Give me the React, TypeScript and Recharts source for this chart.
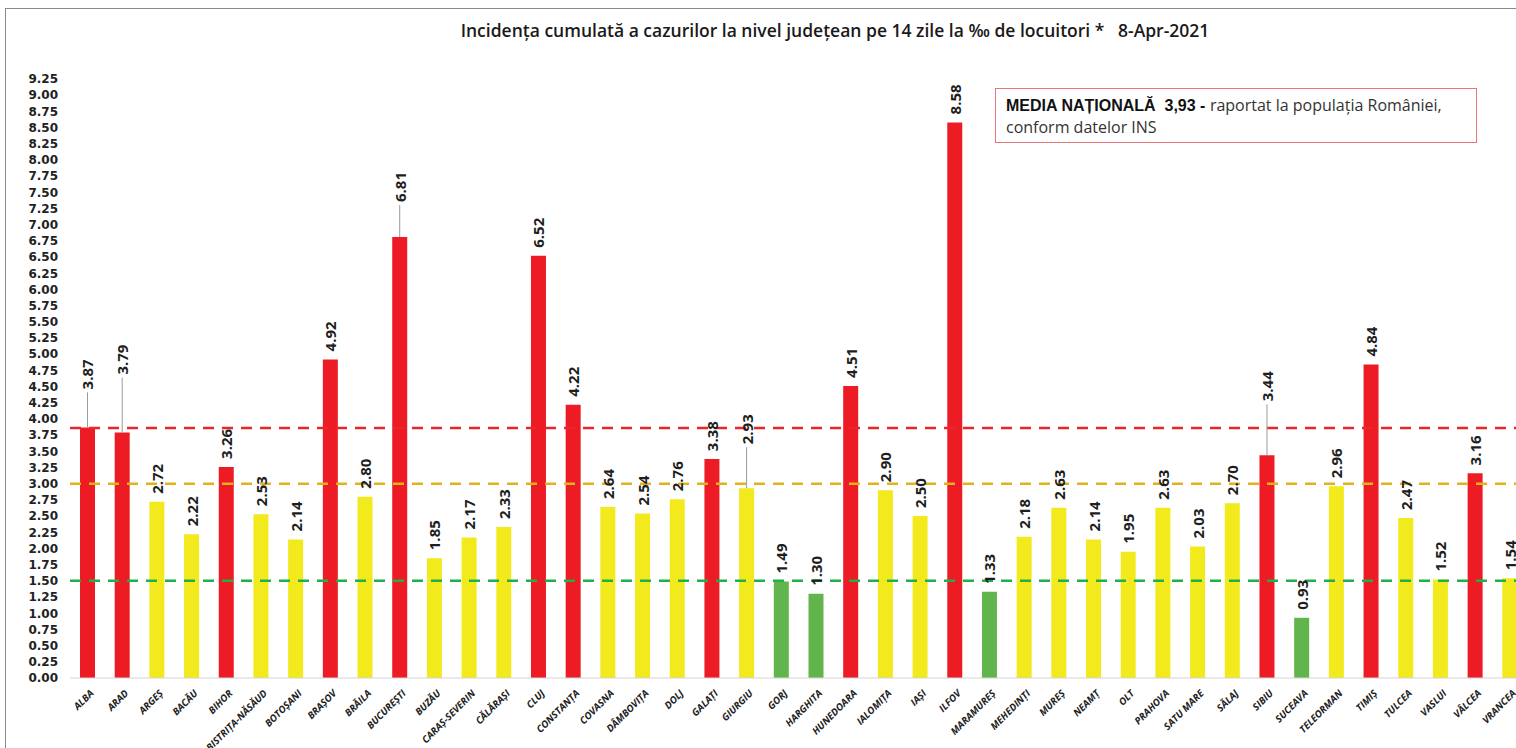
import {Bar, BarChart, Cell, LabelList, ReferenceLine, XAxis, YAxis} from "recharts";

const counties = [
  "ALBA", "ARAD", "ARGEȘ", "BACĂU", "BIHOR", "BISTRIȚA-NĂSĂUD", "BOTOȘANI", "BRAȘOV", "BRĂILA", "BUCUREȘTI",
  "BUZĂU", "CARAȘ-SEVERIN", "CĂLĂRAȘI", "CLUJ", "CONSTANȚA", "COVASNA", "DÂMBOVIȚA", "DOLJ", "GALAȚI", "GIURGIU",
  "GORJ", "HARGHITA", "HUNEDOARA", "IALOMIȚA", "IAȘI", "ILFOV", "MARAMUREȘ", "MEHEDINȚI", "MUREȘ", "NEAMȚ",
  "OLT", "PRAHOVA", "SATU MARE", "SĂLAJ", "SIBIU", "SUCEAVA", "TELEORMAN", "TIMIȘ", "TULCEA", "VASLUI",
  "VÂLCEA", "VRANCEA",
];

const incidence = [
  3.87, 3.79, 2.72, 2.22, 3.26, 2.53, 2.14, 4.92, 2.80, 6.81,
  1.85, 2.17, 2.33, 6.52, 4.22, 2.64, 2.54, 2.76, 3.38, 2.93,
  1.49, 1.30, 4.51, 2.90, 2.50, 8.58, 1.33, 2.18, 2.63, 2.14,
  1.95, 2.63, 2.03, 2.70, 3.44, 0.93, 2.96, 4.84, 2.47, 1.52,
  3.16, 1.54,
];

const yTicks = Array.from({length: 38}, (_, i) => i * 0.25);

const RED_LIMIT = 3.0;
const GREEN_LIMIT = 1.5;
const NATIONAL_LINE = 3.86;

// labels that sit higher with a leader line
const labelLift: Record<string, number> = {
  "ALBA": 30, "ARAD": 50, "BUCUREȘTI": 27, "GIURGIU": 36, "SIBIU": 46,
};

const COLOR = {
  red: "#ED1C24",
  yellow: "#F2EA1C",
  green: "#62B54C",
  redLine: "#E8262B",
  yellowLine: "#E2B21A",
  greenLine: "#1FAF4B",
};

const data = counties.map((name, i) => ({name, value: incidence[i]}));

const barColor = (v: number) => v >= RED_LIMIT ? COLOR.red : v >= GREEN_LIMIT ? COLOR.yellow : COLOR.green;

const BarLabel = (props: any) => {
  const {x, y, width, value, index} = props;
  const cx = x + width / 2;
  const lift = labelLift[counties[index]] ?? 0;
  const ty = y - 8 - lift;
  return <g>
    {lift > 0 && <line x1={cx} y1={y} x2={cx} y2={ty + 3} stroke="#9a9a9a" strokeWidth={1}/>}
    <text
      x={cx} y={ty} transform={`rotate(-90 ${cx} ${ty})`}
      textAnchor="start" dominantBaseline="central"
      style={{fontFamily: "'Open Sans'", fontWeight: 700, fontSize: 15, fill: "#1e1e1e"}}
    >{Number(value).toFixed(2)}</text>
  </g>
};

const CountyTick = (props: any) => {
  const {x, y, payload} = props;
  return <text
    x={x + 7} y={y + 8} transform={`rotate(-45 ${x + 7} ${y + 8})`} textAnchor="end"
    style={{fontFamily: "'Open Sans'", fontStyle: "italic", fontWeight: 700, fontSize: 9.8, fill: "#222"}}
  >{payload.value}</text>
};

export default function App() {
  return <div style={{position: "absolute", left: 0, top: 0, width: 1516, height: 748, overflow: "hidden", background: "#fff"}}>
    <div style={{position: "absolute", left: 5, top: 8, width: 1700, height: 900, border: "1px solid #8a8a8a"}}/>
    <div style={{
      position: "absolute", left: 0, top: 18, width: 1670, textAlign: "center", whiteSpace: "pre",
      fontFamily: "'Open Sans'", fontWeight: 600, fontSize: 17.5, color: "#1a1a1a",
    }}>{"Incidența cumulată a cazurilor la nivel județean pe 14 zile la ‰ de locuitori *   8-Apr-2021"}</div>

    <div style={{position: "absolute", left: 0, top: 0}}>
      <BarChart width={1528} height={748} data={data} margin={{top: 79, right: 1, bottom: 0, left: 0}}>
        <XAxis dataKey="name" interval={0} height={70} tick={<CountyTick/>} tickLine={false}
               axisLine={{stroke: "#d4d4d4"}}/>
        <YAxis domain={[0, 9.25]} ticks={yTicks} interval={0} width={70} tickSize={0} tickMargin={12}
               axisLine={false} tickLine={false} tickFormatter={(v: number) => v.toFixed(2)}
               tick={{fontFamily: "'DejaVu Sans'", fontWeight: 700, fontSize: 12, fill: "#222"}}/>
        <ReferenceLine y={NATIONAL_LINE} stroke={COLOR.redLine} strokeWidth={2.5} strokeDasharray="11 8"/>
        <ReferenceLine y={RED_LIMIT} stroke={COLOR.yellowLine} strokeWidth={2.5} strokeDasharray="11 8"/>
        <ReferenceLine y={GREEN_LIMIT} stroke={COLOR.greenLine} strokeWidth={2.5} strokeDasharray="11 8"/>
        <Bar dataKey="value" barSize={15} isAnimationActive={false}>
          {data.map((d) => <Cell key={d.name} fill={barColor(d.value)}/>)}
          <LabelList dataKey="value" content={<BarLabel/>}/>
        </Bar>
      </BarChart>
    </div>

    <div style={{
      position: "absolute", left: 995, top: 88, width: 482, height: 55, border: "1.5px solid #E5767E",
      boxSizing: "border-box", padding: "5px 0 0 10px", background: "#fff",
    }}>
      <div style={{whiteSpace: "nowrap", lineHeight: "22px"}}>
        <span style={{fontFamily: "'Liberation Sans'", fontWeight: 700, fontSize: 16, color: "#111"}}>MEDIA NAȚIONALĂ&nbsp; 3,93 - </span>
        <span style={{fontFamily: "'Open Sans'", fontSize: 16, color: "#333"}}>raportat la populația României,</span>
      </div>
      <div style={{fontFamily: "'Open Sans'", fontSize: 16, color: "#333", lineHeight: "20px"}}>conform datelor INS</div>
    </div>
  </div>
}
